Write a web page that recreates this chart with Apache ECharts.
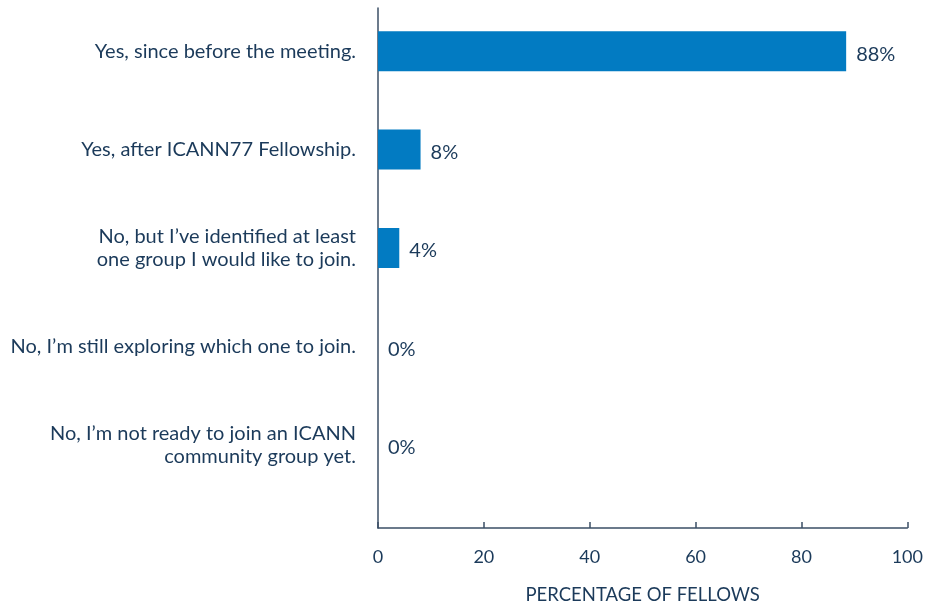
<!DOCTYPE html>
<html>
<head>
<meta charset="utf-8">
<script src="https://cdn.jsdelivr.net/npm/echarts@6/dist/echarts.min.js"></script>
<style>
  html, body { margin: 0; padding: 0; background: #ffffff; }
  #chart { width: 926px; height: 610px; }
</style>
</head>
<body>
<div id="chart"></div>
<script>
const categories = [
  "Yes, since before the meeting.",
  "Yes, after ICANN77 Fellowship.",
  "No, but I\u2019ve identified at least\none group I would like to join.",
  "No, I\u2019m still exploring which one to join.",
  "No, I\u2019m not ready to join an ICANN\ncommunity group yet."
];
const percentages = [88, 8, 4, 0, 0];
const xTicks = [0, 20, 40, 60, 80, 100];
const axisName = "PERCENTAGE OF FELLOWS";

const textColor = "#1b3a5a";
const axisColor = "#3b4f66";
const barColor = "#027bc2";
const fontFamily = "Lato, 'Noto Sans', sans-serif";

const chart = echarts.init(document.getElementById('chart'), null, { renderer: 'canvas' });
chart.setOption({
  animation: false,
  backgroundColor: '#ffffff',
  grid: [
    { left: 378, right: 16, top: 2, height: 492 },
    { left: 378, right: 16, top: 8, bottom: 72 }
  ],
  xAxis: [
    { gridIndex: 0, type: 'value', min: xTicks[0], max: xTicks[xTicks.length - 1], show: false },
    {
      gridIndex: 1, type: 'value', min: xTicks[0], max: xTicks[xTicks.length - 1],
      interval: xTicks[1] - xTicks[0],
      axisLine: { show: true, lineStyle: { color: axisColor, width: 1.5 } },
      axisTick: { show: true, inside: true, length: 6, lineStyle: { color: axisColor, width: 1.5 } },
      axisLabel: { margin: 20, color: textColor, fontSize: 18, fontFamily: fontFamily },
      splitLine: { show: false },
      name: axisName, nameLocation: 'middle', nameGap: 58,
      nameTextStyle: { color: textColor, fontSize: 18.5, fontFamily: fontFamily }
    }
  ],
  yAxis: [
    {
      gridIndex: 0, type: 'category', inverse: true, data: categories,
      axisLine: { show: false }, axisTick: { show: false },
      axisLabel: { margin: 22, color: textColor, fontSize: 20, lineHeight: 23, fontFamily: fontFamily, align: 'right' }
    },
    {
      gridIndex: 1, type: 'value', min: 0, max: 1,
      axisLine: { show: true, lineStyle: { color: axisColor, width: 1.5 } },
      axisTick: { show: false }, axisLabel: { show: false }, splitLine: { show: false }
    }
  ],
  series: [{
    type: 'bar', xAxisIndex: 0, yAxisIndex: 0,
    data: percentages, barWidth: 40,
    itemStyle: { color: barColor },
    label: {
      show: true, position: 'right', distance: 10, formatter: '{c}%',
      color: textColor, fontSize: 20, fontFamily: fontFamily, offset: [0, 3]
    }
  }]
});
</script>
</body>
</html>
